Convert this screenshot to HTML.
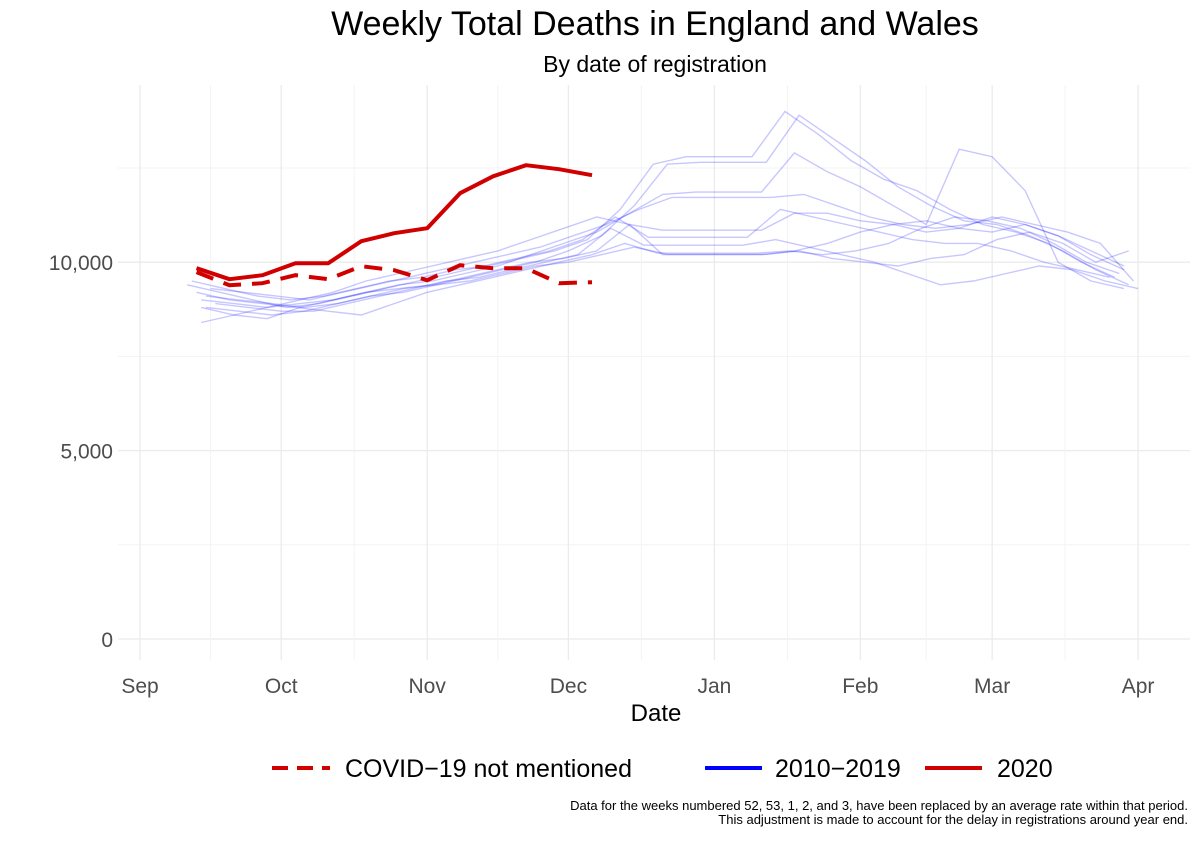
<!DOCTYPE html>
<html><head><meta charset="utf-8"><style>
body{margin:0;background:#fff;width:1200px;height:840px;overflow:hidden;font-family:"Liberation Sans",sans-serif}
</style></head><body>
<svg id="chart" width="1200" height="840" xmlns="http://www.w3.org/2000/svg" font-family="Liberation Sans, sans-serif">
<text x="655" y="35" font-size="34" text-anchor="middle" fill="#000">Weekly Total Deaths in England and Wales</text>
<text x="655" y="72" font-size="23" text-anchor="middle" fill="#000">By date of registration</text>
<g id="grid"></g><g id="axes"></g><g id="blue"></g><g id="red"></g>
<text x="656" y="721" font-size="24" text-anchor="middle" fill="#000">Date</text>
<g>
<line x1="272" y1="768" x2="330" y2="768" stroke="#d00000" stroke-width="4" stroke-dasharray="16,9"/>
<text x="345" y="777" font-size="25">COVID−19 not mentioned</text>
<line x1="705" y1="768" x2="762" y2="768" stroke="#0000ff" stroke-width="4"/>
<text x="775" y="777" font-size="25">2010−2019</text>
<line x1="925" y1="768" x2="982" y2="768" stroke="#d00000" stroke-width="4"/>
<text x="997" y="777" font-size="25">2020</text>
</g>
<text x="1188" y="810" font-size="13" text-anchor="end">Data for the weeks numbered 52, 53, 1, 2, and 3, have been replaced by an average rate within that period.</text>
<text x="1188" y="824" font-size="13" text-anchor="end">This adjustment is made to account for the delay in registrations around year end.</text>
</svg>
<script>
const monthLabels=["Sep","Oct","Nov","Dec","Jan","Feb","Mar","Apr"];
const monthDays=[0,30,61,91,122,153,181,212];
const yTicks=[0,5000,10000];
const yTickLabels=["0","5,000","10,000"];
const start2020=12;
const total2020=[9841,9549,9655,9973,9973,10557,10769,10902,11830,12281,12573,12467,12308];
const notMentioned2020=[9735,9390,9443,9655,9549,9894,9788,9523,9920,9841,9841,9443,9469];
const pastStarts=[11,14,13,15,13,10,16,12,14,13];
const s1=[9.5,9.3,9.1,9.0,9.1,9.3,9.5,9.6,9.8,9.9,10.1,10.3,10.6,11.4,12.6,12.8,12.8,12.8,14.0,13.4,12.7,12.2,11.9,11.4,11.0,10.8,10.5,10.0,9.6];
const s2=[8.8,8.7,8.6,8.7,8.9,9.1,9.3,9.4,9.6,9.8,10.0,10.3,10.7,11.5,12.6,12.65,12.65,12.65,13.9,13.3,12.7,12.0,11.5,11.1,11.0,10.7,10.3,9.8,9.4];
const s3=[9.0,8.9,8.8,8.9,9.0,9.2,9.4,9.5,9.7,9.9,10.2,10.5,10.8,11.3,11.8,11.86,11.86,11.86,12.9,12.4,12.0,11.5,11.0,13.0,12.8,11.9,10.0,9.5,9.3];
const s4=[9.3,9.2,9.1,9.0,9.2,9.4,9.6,9.8,10.0,10.2,10.4,10.7,11.0,11.4,11.72,11.72,11.72,11.72,11.8,11.5,11.2,11.0,10.9,11.0,11.2,11.0,10.8,10.5,9.5];
const s5=[8.4,8.6,8.8,9.0,9.2,9.5,9.7,9.9,10.1,10.3,10.6,10.9,11.2,11.0,10.85,10.85,10.85,10.85,11.3,11.3,11.1,11.0,10.8,10.9,11.2,11.0,10.7,10.3,9.9];
const s6=[9.4,9.2,9.0,8.8,8.9,9.1,9.3,9.5,9.7,9.9,10.1,10.3,10.6,11.2,10.66,10.66,10.66,10.66,11.4,11.2,11.0,10.8,10.6,10.5,10.5,10.3,10.0,9.8,9.6];
const s7=[8.9,8.8,8.7,8.7,8.9,9.1,9.3,9.5,9.6,9.8,10.0,10.2,10.9,10.45,10.45,10.45,10.45,10.6,10.4,10.2,10.0,9.7,9.4,9.5,9.7,9.9,9.8,9.5,9.3];
const s8=[9.2,9.0,8.9,8.8,8.7,8.6,8.9,9.2,9.4,9.6,9.8,10.0,10.2,10.5,10.24,10.24,10.24,10.24,10.3,10.2,10.3,10.5,10.9,11.2,11.1,10.9,10.5,10.0,9.7];
const s9=[9.1,9.0,8.9,8.8,8.9,9.1,9.2,9.4,9.5,9.7,9.9,10.0,10.2,10.4,10.21,10.21,10.21,10.21,10.3,10.1,10.0,9.9,10.1,10.2,10.6,10.8,10.5,10.0,10.3];
const s10=[8.8,8.6,8.5,8.8,9.0,9.2,9.3,9.4,9.6,9.8,10.0,10.1,10.3,11.0,10.2,10.2,10.2,10.2,10.3,10.5,10.8,11.0,11.1,10.9,10.8,11.0,10.7,10.2,9.8];
const pastSeries=[s1,s2,s3,s4,s5,s6,s7,s8,s9,s10];

const NS="http://www.w3.org/2000/svg";
const X0=118,X1=1190,Y0=85,Y1=660;
function xs(day){return 140+day*4.708;}
function ys(v){return 639-v*0.03768;}
function mk(tag,attrs,parent){const e=document.createElementNS(NS,tag);for(const k in attrs)e.setAttribute(k,attrs[k]);document.getElementById(parent).appendChild(e);return e;}
for(let i=0;i<yTicks.length;i++){
 const y=ys(yTicks[i]);
 const g=mk('line',{x1:X0,x2:X1,y1:y,y2:y,stroke:'#ebebeb','stroke-width':1.3},'grid');
 
 
 const t=mk('text',{x:113,y:y+8,'font-size':21,'text-anchor':'end',fill:'#4d4d4d'},'axes');
 t.textContent=yTickLabels[i];
 
 
 if(i<yTicks.length-1){const ym=ys((yTicks[i]+yTicks[i+1])/2);
  const m=mk('line',{x1:X0,x2:X1,y1:ym,y2:ym,stroke:'#f3f3f3','stroke-width':1},'grid');
  
  }
}
{const ym=ys(12500);const m=mk('line',{x1:X0,x2:X1,y1:ym,y2:ym,stroke:'#f3f3f3','stroke-width':1},'grid');
 
 }
for(let i=0;i<monthDays.length;i++){
 const x=xs(monthDays[i]);
 const g=mk('line',{x1:x,x2:x,y1:Y0,y2:Y1,stroke:'#ebebeb','stroke-width':1.3},'grid');
 
 
 const t=mk('text',{x:x,y:693,'font-size':21,'text-anchor':'middle',fill:'#4d4d4d'},'axes');
 t.textContent=monthLabels[i];
 
 
 if(i<monthDays.length-1){const xm=xs((monthDays[i]+monthDays[i+1])/2);
  const m=mk('line',{x1:xm,x2:xm,y1:Y0,y2:Y1,stroke:'#f3f3f3','stroke-width':1},'grid');
  
  }
}
function pts(startDay,vals,scale){return vals.map((v,i)=>xs(startDay+7*i).toFixed(1)+','+ys(v*scale).toFixed(1)).join(' ');}
pastSeries.forEach((s,k)=>{
 const p=mk('polyline',{points:pts(pastStarts[k],s,1000),fill:'none',stroke:'#0000ff','stroke-opacity':0.22,'stroke-width':1.4},'blue');
 
 
});
const d=mk('polyline',{points:pts(start2020,notMentioned2020,1),fill:'none',stroke:'#d00000','stroke-width':4,'stroke-dasharray':'18,11'},'red');


const r=mk('polyline',{points:pts(start2020,total2020,1),fill:'none',stroke:'#d00000','stroke-width':4,'stroke-linejoin':'round'},'red');


</script>
</body></html>
